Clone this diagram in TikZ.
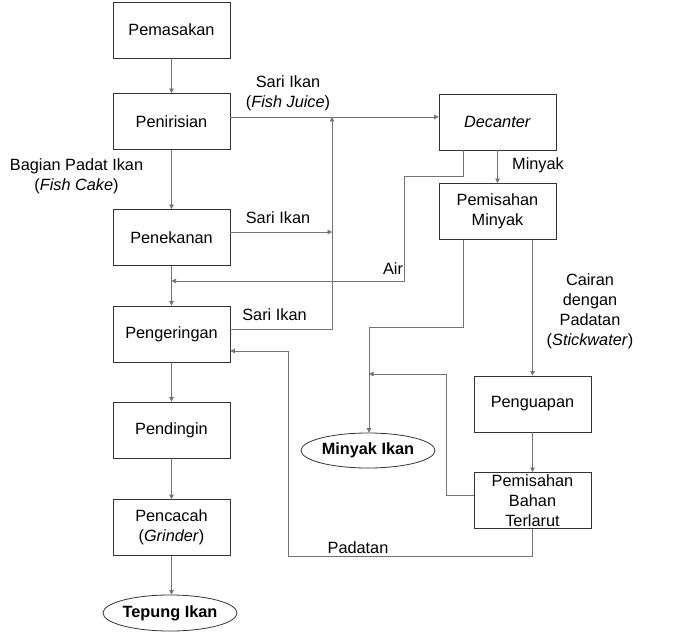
\documentclass[tikz,border=0pt]{standalone}
\usepackage{fontspec}
\setmainfont{Liberation Sans}
\usetikzlibrary{arrows.meta,shapes.geometric}
\begin{document}
\begin{tikzpicture}[x=1pt,y=-1pt,
  every node/.style={font=\fontsize{16.3}{20}\selectfont},
  proc/.style={draw=black!80, line width=0.8pt, minimum width=117pt, minimum height=56pt, align=center, inner sep=1pt},
  prod/.style={ellipse, draw=black!80, line width=0.8pt, minimum width=134pt, minimum height=36pt, inner sep=0pt, font=\fontsize{16.3}{20}\selectfont\bfseries},
  lbl/.style={align=center, inner sep=0pt},
  flow/.style={draw=black!55, line width=0.7pt},
  arr/.style={flow, -{Triangle[length=4.5pt,width=4.5pt]}}]
\useasboundingbox (0,0) rectangle (700,636);

% left column
\node[proc] (pem)  at (171.5,30)    {Pemasakan};
\node[proc] (pen)  at (171.5,121.5) {Penirisian};
\node[proc] (pek)  at (171.5,237.5) {Penekanan};
\node[proc] (peng) at (171.5,334)   {Pengeringan};
\node[proc] (pend) at (171.5,430)   {Pendingin};
\node[proc] (penc) at (171.5,527.5) {Pencacah\\(\textit{Grinder})};
\node[prod] (tep)  at (170,613)     {Tepung Ikan};

% right part
\node[proc] (dec) at (497.5,122)   {\textit{Decanter}};
\node[proc] (pm)  at (497.5,211.5) {Pemisahan\\Minyak};
\node[prod, minimum height=35pt] (mi) at (368,450.5) {Minyak Ikan};
\node[proc] (pgu) at (532.5,404)   {Penguapan};
\node[proc] (pbt) at (532.5,500.5) {Pemisahan\\Bahan\\Terlarut};

% coordinates
\coordinate (j1) at (332,117);
\coordinate (cb) at (332,329);
\coordinate (a1) at (463,176);
\coordinate (a2) at (404,176);
\coordinate (a3) at (404,281);
\coordinate (m1) at (463,327);
\coordinate (m2) at (369,327);
\coordinate (b1) at (446,495);
\coordinate (b2) at (446,374);
\coordinate (p1) at (532.5,556);
\coordinate (p2) at (288,556);
\coordinate (p3) at (288,351);

% main column arrows
\draw[arr] (pem) -- (pen);
\draw[arr] (pen) -- (pek);
\draw[arr] (pek) -- (peng);
\draw[arr] (peng) -- (pend);
\draw[arr] (pend) -- (penc);
\draw[arr] (penc.south) -- (penc.south |- tep.north);

% fish juice collection
\draw[arr] (pen.east |- j1) -- (dec.west |- j1);
\draw[arr] (peng.east |- cb) -- (cb) -- (j1);
\draw[arr] ([yshift=5.5pt]pek.east) -- ([yshift=5.5pt]pek.east -| j1);

% decanter outputs
\draw[arr] (dec) -- (pm);
\draw[arr] (a1 |- dec.south) -- (a1) -- (a2) -- (a3) -- (pek.south |- a3);

% oil separation
\draw[arr] (m1 |- pm.south) -- (m1) -- (m2) -- (mi.north -| m2);
\draw[arr] (pm.south -| pgu.north) -- (pgu.north);
\draw[arr] (pgu) -- (pbt);
\draw[arr] (pbt.west |- b1) -- (b1) -- (b2) -- (m2 |- b2);
\draw[arr] (pbt.south) -- (p1) -- (p2) -- (p3) -- (peng.east |- p3);

% labels
\node[lbl] (l1) at (288,93) {Sari Ikan\\(\textit{Fish Juice})};
\node[lbl] (l2) at (76.5,176) {Bagian Padat Ikan\\(\textit{Fish Cake})};
\node[lbl] (l3) at (278,218) {Sari Ikan};
\node[lbl] (l4) at (274.5,315) {Sari Ikan};
\node[lbl] (l5) at (538,165) {Minyak};
\node[lbl] (l6) at (393,269) {Air};
\node[lbl] (l7) at (590,311) {Cairan\\dengan\\Padatan\\(\textit{Stickwater})};
\node[lbl] (l8) at (358,548) {Padatan};
\end{tikzpicture}
\end{document}
